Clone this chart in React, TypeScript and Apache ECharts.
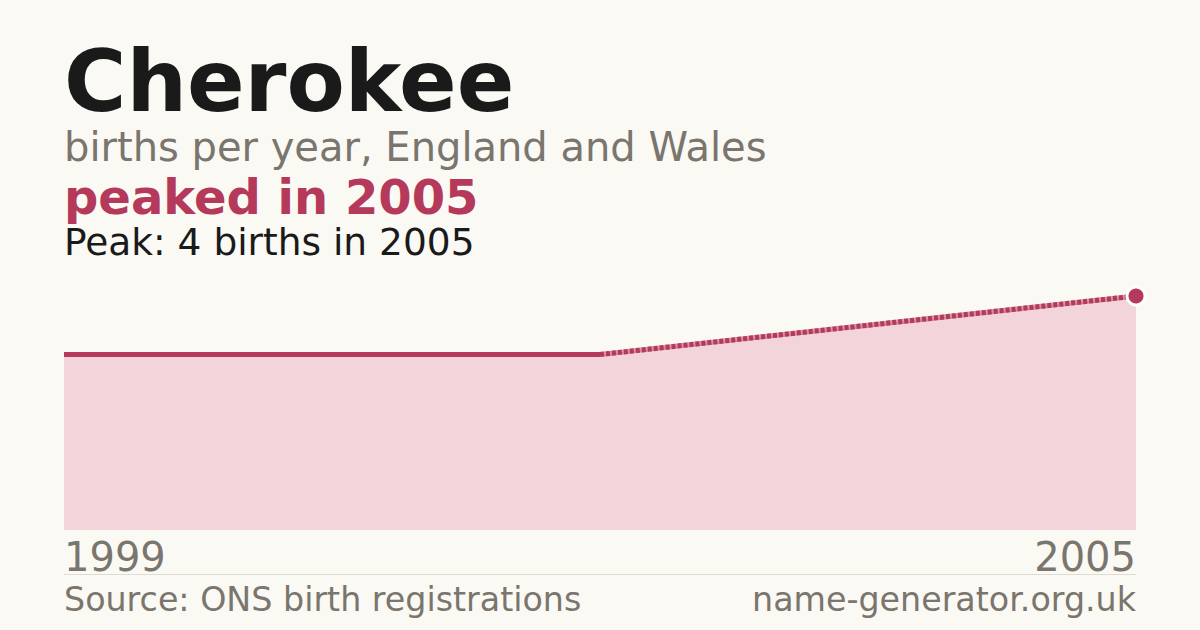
import * as echarts from 'echarts';
import { useEffect, useRef } from 'react';

const years = ['1999', '2000', '2001', '2002', '2003', '2004', '2005'];
const births: (number | null)[] = [3, 3, 3, 3, null, null, 4];
const peakYear = '2005';
const peakValue = 4;

const RED = '#b5395a';
const GREY = '#7a756d';
const INK = '#1a1a1a';
const BG = '#faf9f4';

export default function App() {
    const chartRef = useRef<HTMLDivElement>(null);

    useEffect(() => {
        if (!chartRef.current) return;
        const chart = echarts.init(chartRef.current, null, { renderer: 'svg' });

        // solid where a point has a real neighbour, dashed across the missing years
        const solid = births.map((v, i) =>
            v != null && ((births[i - 1] ?? null) != null || (births[i + 1] ?? null) != null) ? v : null,
        );
        const dashed = births.map((v, i) =>
            v != null && (births[i - 1] === null || births[i + 1] === null) ? v : null,
        );

        const option: echarts.EChartsOption = {
            animation: false,
            backgroundColor: BG,
            grid: { left: 64, right: 64, top: 296, bottom: 100 },
            xAxis: {
                type: 'category',
                data: years,
                boundaryGap: false,
                axisLine: { show: false },
                axisTick: { show: false },
                axisLabel: {
                    interval: (i: number) => i === 0 || i === years.length - 1,
                    alignMinLabel: 'left',
                    alignMaxLabel: 'right',
                    verticalAlign: 'middle',
                    margin: 27,
                    fontSize: 40,
                    color: GREY,
                    fontFamily: 'DejaVu Sans',
                },
            },
            yAxis: { type: 'value', min: 0, max: peakValue, show: false, splitLine: { show: false } },
            series: [
                {
                    type: 'line',
                    data: births,
                    connectNulls: true,
                    symbol: 'none',
                    lineStyle: { width: 0, opacity: 0 },
                    areaStyle: { color: '#f2d4da', opacity: 1 },
                    z: 1,
                },
                {
                    type: 'line',
                    data: solid,
                    symbol: 'none',
                    lineStyle: { width: 5, color: RED },
                    z: 2,
                },
                {
                    type: 'line',
                    data: dashed,
                    connectNulls: true,
                    symbol: 'none',
                    lineStyle: { width: 5, color: RED, opacity: 0.5 },
                    z: 2,
                },
                {
                    type: 'line',
                    data: dashed,
                    connectNulls: true,
                    symbol: 'none',
                    lineStyle: { width: 5, color: RED, type: [4, 2] },
                    z: 2,
                },
                {
                    type: 'scatter',
                    data: [[peakYear, peakValue]],
                    symbolSize: 18,
                    itemStyle: { color: RED, borderColor: '#ffffff', borderWidth: 3, opacity: 1 },
                    z: 3,
                },
            ],
            graphic: [
                { type: 'text', left: 64, top: 39, style: { text: 'Cherokee', fontSize: 85, fontWeight: 'bold', fill: INK, fontFamily: 'DejaVu Sans' } },
                { type: 'text', left: 64, top: 127, style: { text: 'births per year, England and Wales', fontSize: 40, fill: GREY, fontFamily: 'DejaVu Sans' } },
                { type: 'text', left: 64, top: 173, style: { text: `peaked in ${peakYear}`, fontSize: 48, fontWeight: 'bold', fill: RED, fontFamily: 'DejaVu Sans' } },
                { type: 'text', left: 64, top: 223, style: { text: `Peak: ${peakValue} births in ${peakYear}`, fontSize: 37.5, fill: INK, fontFamily: 'DejaVu Sans' } },
                { type: 'line', shape: { x1: 64, y1: 574.5, x2: 1136, y2: 574.5 }, style: { stroke: '#dedbd3', lineWidth: 1 } },
                { type: 'text', left: 64, top: 583, style: { text: 'Source: ONS birth registrations', fontSize: 33.3, fill: GREY, fontFamily: 'DejaVu Sans' } },
                { type: 'text', right: 64, top: 583, style: { text: 'name-generator.org.uk', fontSize: 33.3, fill: GREY, fontFamily: 'DejaVu Sans' } },
            ],
        };

        chart.setOption(option);
        return () => chart.dispose();
    }, []);

    return <div ref={chartRef} style={{ position: 'fixed', left: 0, top: 0, width: 1200, height: 630 }} />;
}
